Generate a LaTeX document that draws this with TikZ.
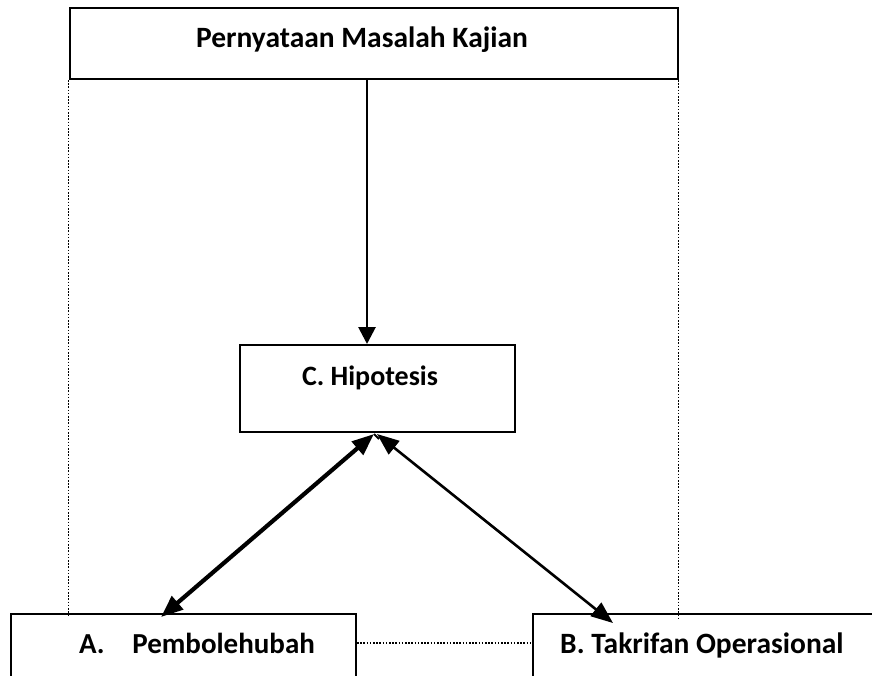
\documentclass[tikz,border=0pt]{standalone}
\usepackage{fontspec}
\setmainfont{Carlito}
\usetikzlibrary{arrows.meta}
\begin{document}
\begin{tikzpicture}[x=1pt,y=-1pt,
  boxnode/.style={draw,line width=2pt,rectangle,inner sep=0pt},
  lbl/.style={font=\bfseries\fontsize{#1}{32}\selectfont,inner sep=0pt},
  lbl/.default=29.5,
  guide/.style={line width=1.7pt,dash pattern=on 1.6pt off 1.6pt},
  tip/.style={-{Triangle[length=17pt,width=17pt]}},
  bitip/.style={{Triangle[length=22pt,width=17pt]}-{Triangle[length=22pt,width=17pt]}}]
\useasboundingbox (0,0) rectangle (872,675);
\clip (0,0) rectangle (872,675);

% boxes
\node[boxnode,minimum width=608pt,minimum height=71pt] (masalah) at (373.5,43.5) {};
\node[boxnode,minimum width=275pt,minimum height=87pt] (hipo) at (377.5,388.5) {};
\node[boxnode,minimum width=345pt,minimum height=100pt] (pemb) at (183.5,664) {};
\node[boxnode,minimum width=360pt,minimum height=100pt] (takrif) at (713,664) {};

% labels
\node[lbl] (masalahtxt) at (362,40) {Pernyataan Masalah Kajian};
\node[lbl=28] (hipotxt) at (370,378) {C. Hipotesis};
\node[lbl=29,anchor=base west] (pembtxt) at (79,653) {A.\hspace{0.95em}Pembolehubah};
\node[lbl,anchor=base west] (takriftxt) at (560,653) {B. Takrifan Operasional};

% dotted guides
\draw[guide] (masalah.south west) -- ([yshift=-4pt]masalah.south west |- pemb.north);
\draw[guide] (masalah.south east) -- ([yshift=-7pt]masalah.south east |- takrif.north);
\draw[guide] ([yshift=-30pt]pemb.north east) -- ([yshift=-30pt]takrif.north west);

% connectors
\draw[tip,line width=2.8pt] ([xshift=-6.5pt]masalah.south) -- ([xshift=-10.5pt]hipo.north);
\coordinate (meet) at ([xshift=-3.5pt,yshift=-1pt]hipo.south);
\coordinate (pembend) at ([xshift=-22.5pt,yshift=-4pt]pemb.north);
\coordinate (takrifend) at ([xshift=-100pt,yshift=-10pt]takrif.north);
\draw[bitip,line width=4.2pt] (pembend) -- (meet);
\draw[line width=1.8pt] (meet) -- ++(5pt,-5pt);
\draw[bitip,line width=2.6pt] ([xshift=3pt]meet) -- (takrifend);
\end{tikzpicture}
\end{document}
